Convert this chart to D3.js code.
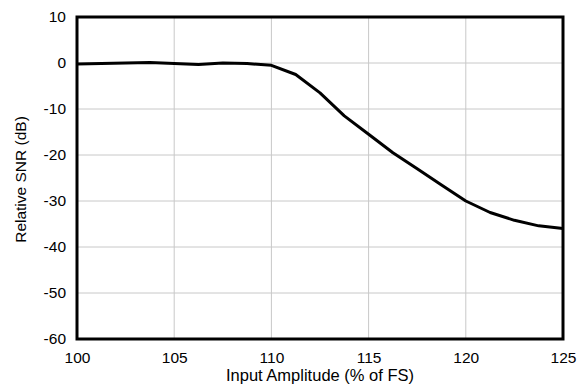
<!DOCTYPE html>
<html>
  <head>
    <meta charset="utf-8">
    <style>
    body { margin: 0; background: #fff; }
    svg { display: block; font-family: "Liberation Sans", Arial, sans-serif; }
    </style>
    <script src="https://d3js.org/d3.v7.min.js"></script>
  </head>
  <body>
    <script type="text/javascript">
    // data
    var amplitude = [100, 101.25, 102.5, 103.75, 105, 106.25, 107.5, 108.75, 110, 111.25, 112.5,
                     113.75, 115, 116.25, 117.5, 118.75, 120, 121.25, 122.5, 123.75, 125];
    var snr = [-0.2, -0.1, 0, 0.1, -0.1, -0.3, 0, -0.1, -0.5, -2.5, -6.5,
               -11.5, -15.5, -19.5, -23, -26.5, -30, -32.5, -34.2, -35.4, -36];
    var xTicks = [100, 105, 110, 115, 120, 125];
    var yTicks = [10, 0, -10, -20, -30, -40, -50, -60];

    var margin = {top: 17, right: 16, bottom: 46, left: 77},
    width = 579 - margin.left - margin.right,
    height = 385 - margin.top - margin.bottom;

    var svg = d3.select("body")
      .append("svg")
      .attr("width", 579)
      .attr("height", 385)
      .append("g")
      .attr("transform", "translate(" + margin.left + "," + margin.top + ")");

    var xScale = d3.scaleLinear().domain([100, 125]).range([0, width]);
    var yScale = d3.scaleLinear().domain([-60, 10]).range([height, 0]);

    // grid
    svg.append("g")
      .selectAll("line")
      .data(xTicks)
      .enter().append("line")
      .attr("x1", function(d) { return xScale(d); })
      .attr("x2", function(d) { return xScale(d); })
      .attr("y1", 0).attr("y2", height)
      .attr("stroke", "#c8c8c8").attr("stroke-width", 1);
    svg.append("g")
      .selectAll("line")
      .data(yTicks)
      .enter().append("line")
      .attr("y1", function(d) { return yScale(d); })
      .attr("y2", function(d) { return yScale(d); })
      .attr("x1", 0).attr("x2", width)
      .attr("stroke", "#c8c8c8").attr("stroke-width", 1);

    // curve
    var line = d3.line()
      .x(function(d, i) { return xScale(amplitude[i]); })
      .y(function(d) { return yScale(d); });
    svg.append("path")
      .datum(snr)
      .attr("d", line)
      .attr("fill", "none")
      .attr("stroke", "#000")
      .attr("stroke-width", 3)
      .attr("stroke-linejoin", "round");

    // frame
    svg.append("rect")
      .attr("width", width).attr("height", height)
      .attr("fill", "none").attr("stroke", "#000").attr("stroke-width", 3);

    // axes
    var fmt = function(d) { return String(d); };
    var xAxis = svg.append("g")
      .attr("transform", "translate(0," + height + ")")
      .call(d3.axisBottom(xScale).tickValues(xTicks).tickFormat(fmt).tickSize(0).tickPadding(13));
    var yAxis = svg.append("g")
      .call(d3.axisLeft(yScale).tickValues(yTicks).tickFormat(fmt).tickSize(0).tickPadding(11));
    [xAxis, yAxis].forEach(function(a) {
      a.select(".domain").remove();
      a.selectAll("text")
        .attr("font-family", "Liberation Sans, Arial, sans-serif")
        .attr("font-size", 15.5)
        .attr("fill", "#000");
    });

    svg.append("text")
      .attr("x", width / 2)
      .attr("y", 381 - margin.top)
      .attr("text-anchor", "middle")
      .attr("font-size", 16.5)
      .text("Input Amplitude (% of FS)");

    svg.append("text")
      .attr("transform", "translate(" + (26 - margin.left) + "," + (179.5 - margin.top) + ") rotate(-90)")
      .attr("text-anchor", "middle")
      .attr("font-size", 15.5)
      .text("Relative SNR (dB)");
    </script>
  </body>
</html>
